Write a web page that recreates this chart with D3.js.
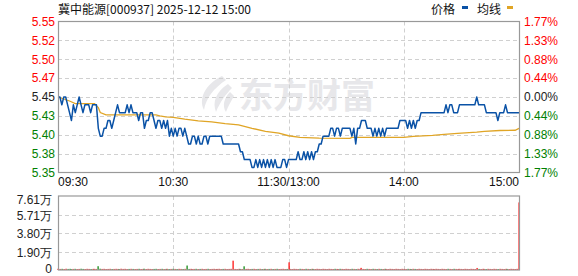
<!DOCTYPE html>
<html>
<head>
<meta charset="utf-8">
<script src="https://cdn.jsdelivr.net/npm/d3@7"></script>
<style>
  body { margin: 0; background: #fff; }
  text { font-family: "Liberation Sans", Arial, sans-serif; font-size: 12px; }
  .cjk { font-family: "Noto Sans CJK SC", sans-serif; }
</style>
</head>
<body>
<svg id="chart" width="578" height="276"></svg>
<script>
// ---- data ----
const title = "冀中能源[000937] 2025-12-12 15:00";
const preClose = 5.45;
const pctRange = 0.0177;

const priceLabels = ["5.35", "5.38", "5.40", "5.43", "5.45", "5.47", "5.50", "5.52", "5.55"];
const pctLabels = ["1.77%", "1.33%", "0.88%", "0.44%", "0.00%", "0.44%", "0.88%", "1.33%", "1.77%"];
const timeLabels = ["09:30", "10:30", "11:30/13:00", "14:00", "15:00"];
const timeMinutes = [0, 60, 120, 180, 240];
const volLabels = ["0", "1.90万", "3.80万", "5.71万", "7.61万"];
const volMax = 76100;

// price per minute, 09:30 .. 15:00 (241 points)
const prices = [
  5.45,5.45,5.44,5.45,5.45,5.44,5.43,5.42,5.44,5.43,
  5.44,5.45,5.44,5.43,5.44,5.44,5.44,5.43,5.44,5.44,
  5.44,5.41,5.40,5.40,5.41,5.41,5.42,5.42,5.41,5.42,
  5.43,5.44,5.43,5.43,5.43,5.43,5.44,5.43,5.44,5.43,
  5.43,5.43,5.42,5.43,5.43,5.41,5.42,5.42,5.43,5.43,
  5.42,5.41,5.42,5.42,5.41,5.42,5.41,5.42,5.40,5.41,
  5.40,5.41,5.40,5.41,5.41,5.40,5.41,5.40,5.39,5.39,
  5.40,5.40,5.39,5.40,5.39,5.39,5.40,5.40,5.39,5.40,
  5.40,5.40,5.40,5.40,5.40,5.40,5.39,5.39,5.39,5.39,
  5.39,5.39,5.39,5.39,5.39,5.38,5.38,5.37,5.37,5.37,
  5.37,5.36,5.36,5.37,5.36,5.37,5.36,5.37,5.36,5.37,
  5.36,5.37,5.36,5.37,5.36,5.36,5.36,5.37,5.37,5.36,
  5.37,5.37,5.37,5.37,5.37,5.38,5.37,5.37,5.38,5.37,
  5.38,5.37,5.38,5.37,5.38,5.38,5.39,5.39,5.40,5.40,
  5.40,5.40,5.41,5.41,5.40,5.41,5.41,5.40,5.41,5.41,
  5.41,5.41,5.41,5.40,5.41,5.39,5.41,5.41,5.42,5.42,
  5.42,5.41,5.41,5.41,5.40,5.41,5.40,5.41,5.40,5.41,
  5.40,5.41,5.41,5.41,5.41,5.41,5.41,5.41,5.42,5.42,
  5.42,5.42,5.41,5.42,5.41,5.42,5.41,5.42,5.42,5.43,
  5.43,5.43,5.43,5.43,5.43,5.43,5.43,5.43,5.43,5.43,
  5.43,5.43,5.44,5.43,5.44,5.44,5.43,5.43,5.43,5.44,
  5.44,5.44,5.44,5.44,5.44,5.44,5.44,5.44,5.45,5.44,
  5.44,5.44,5.44,5.43,5.43,5.43,5.43,5.43,5.43,5.42,
  5.43,5.43,5.43,5.44,5.43,5.43,5.43,5.43,5.43,5.43,
  5.43
];

// average line, sampled where it visibly changes
const avgMinutes = [0, 6, 9, 19, 21, 22, 25, 51, 53, 56, 60, 66, 73, 80, 87, 94, 101, 108, 115, 120,
  126, 136, 152, 153, 180, 185, 195, 201, 208, 218, 222, 230, 238, 240];
const avgValues = [5.45, 5.4449, 5.4415, 5.4415, 5.4364, 5.4301, 5.4271, 5.4271, 5.426, 5.4246, 5.424,
  5.4216, 5.4195, 5.4183, 5.4161, 5.4145, 5.410, 5.406, 5.4038, 5.4005,
  5.3984, 5.3975, 5.3971, 5.3984, 5.3984, 5.3996, 5.4009, 5.4022, 5.4034, 5.4051, 5.406, 5.4072, 5.4075, 5.410];

// volume per minute (shares)
const volumes = [
  1300,1100,1200,1000,1300,1100,1200,1000,1100,1200,
  1000,1100,1300,1100,1000,1200,1100,1000,1100,1200,
  1100,3900,1300,1100,1200,1000,1100,1200,1000,1100,
  1200,1100,1000,1300,1100,1200,1000,1100,1200,1100,
  1000,1100,1200,1000,1100,1300,1000,1200,1100,1000,
  1100,1200,1000,1100,1200,1000,1100,1200,1000,1100,
  1200,1100,1000,1200,1100,1000,1200,4600,1100,1200,
  1000,1100,1200,1000,1100,1200,1000,1100,1200,1000,
  1100,1200,1000,1100,1200,1000,1100,1200,1000,1100,
  1200,9600,1100,1000,1200,1100,1000,3800,1100,1200,
  1000,1100,1200,1000,1100,1200,1000,1100,1200,1000,
  1100,1200,1000,1100,1200,1000,1100,1200,1000,1100,
  7900,1100,1000,1200,1100,1000,1200,1100,1000,1200,
  1100,1000,1200,1100,1000,1200,1100,1000,1200,1100,
  1000,1200,1100,1000,1200,1100,1000,1200,1100,1000,
  1200,1100,1000,1200,1100,1000,1200,1100,2200,1100,
  1000,1200,1100,1000,1200,1100,1000,1200,1100,1000,
  1200,1100,1000,1200,1100,1000,1200,1100,1000,1200,
  1100,1000,1200,1100,1000,1200,1100,1000,1200,1100,
  1000,1200,1100,1000,1200,1100,1000,1200,1100,1000,
  1200,1100,1000,1200,1100,1000,1200,1100,1000,1200,
  1100,1000,1200,1100,1000,1200,1100,1000,2100,1100,
  1000,1200,1100,1000,1200,1100,1000,1200,1100,1000,
  1200,1100,1000,1200,1100,1000,1200,1100,1000,1200,
  69500
];

// ---- drawing ----
const svg = d3.select("#chart");
const left = 58, right = 519;
const pTop = 21.5, pBottom = 172.5;
const vTop = 196, vBottom = 270;

const x = d3.scaleLinear().domain([0, 240]).range([left, right]);
const yLo = preClose * (1 - pctRange), yHi = preClose * (1 + pctRange);
const y = d3.scaleLinear().domain([yLo, yHi]).range([pBottom, pTop]);
const yv = d3.scaleLinear().domain([0, volMax]).range([vBottom, vTop]);

const tickVals = d3.range(priceLabels.length).map(i => yLo + i * (yHi - yLo) / (priceLabels.length - 1));
const labelColor = i => i < 4 ? "#008000" : (i === 4 ? "#222" : "#ff0000");

// watermark
const wm = svg.append("g").attr("fill", "#e7e7ea");
wm.append("path")
  .attr("d", "M222,76 C206,84 198,98 204,110 C206,98 214,88 226,80 Z M228,84 C216,92 212,102 216,112 C220,102 226,94 232,88 Z M230,92 C224,98 222,106 226,112 C228,106 232,100 234,96 Z");
wm.append("text").attr("class", "cjk")
  .attr("x", 239).attr("y", 108)
  .style("font-size", "34px").style("font-weight", "bold")
  .text("东方财富");

// gridlines
const grid = svg.append("g").attr("stroke", "#d0d0d0").attr("stroke-dasharray", "4,3").attr("stroke-width", 1);
tickVals.slice(1, -1).forEach(v => {
  grid.append("line").attr("x1", left).attr("x2", right).attr("y1", Math.round(y(v)) + 0.5).attr("y2", Math.round(y(v)) + 0.5);
});
timeMinutes.slice(1, -1).forEach(m => {
  grid.append("line").attr("x1", Math.round(x(m)) + 0.5).attr("x2", Math.round(x(m)) + 0.5).attr("y1", pTop).attr("y2", pBottom);
  grid.append("line").attr("x1", Math.round(x(m)) + 0.5).attr("x2", Math.round(x(m)) + 0.5).attr("y1", vTop).attr("y2", vBottom);
});
[1, 2, 3].forEach(i => {
  const yy = Math.round(yv(i * volMax / 4)) + 0.5;
  grid.append("line").attr("x1", left).attr("x2", right).attr("y1", yy).attr("y2", yy);
});

// average line
svg.append("path")
  .datum(avgMinutes.map((m, i) => [m, avgValues[i]]))
  .attr("fill", "none").attr("stroke", "#e0a526").attr("stroke-width", 1.3)
  .attr("d", d3.line().x(d => x(d[0])).y(d => y(d[1])));

// price line
svg.append("path")
  .datum(prices)
  .attr("fill", "none").attr("stroke", "#0a52a6").attr("stroke-width", 1.5)
  .attr("stroke-linejoin", "round")
  .attr("d", d3.line().x((d, i) => x(i)).y(d => y(d)));

// volume bars
svg.append("g").selectAll("rect").data(volumes).join("rect")
  .attr("x", (d, i) => Math.round(x(i)) - 0.5)
  .attr("width", 1.2)
  .attr("y", d => yv(d))
  .attr("height", d => vBottom - yv(d))
  .attr("fill", (d, i) => (i > 0 && prices[i] < prices[i - 1]) ? "#008000" : "#ff0000");

// frames
svg.append("rect").attr("x", left + 0.5).attr("y", pTop).attr("width", right - left).attr("height", pBottom - pTop)
  .attr("fill", "none").attr("stroke", "#999").attr("stroke-width", 1.2);
svg.append("rect").attr("x", left + 0.5).attr("y", vTop).attr("width", right - left).attr("height", vBottom - vTop)
  .attr("fill", "none").attr("stroke", "#999").attr("stroke-width", 1.2);

// left price labels
svg.append("g").selectAll("text").data(tickVals).join("text")
  .attr("x", 55).attr("y", d => y(d)).attr("dy", "0.36em")
  .attr("text-anchor", "end")
  .attr("fill", (d, i) => labelColor(i))
  .text((d, i) => priceLabels[i]);

// right pct labels
svg.append("g").selectAll("text").data(tickVals).join("text")
  .attr("x", 524).attr("y", d => y(d)).attr("dy", "0.36em")
  .attr("fill", (d, i) => labelColor(i))
  .text((d, i) => pctLabels[i]);

// time labels
svg.append("g").selectAll("text").data(timeMinutes).join("text")
  .attr("x", d => x(d)).attr("y", 186)
  .attr("text-anchor", (d, i) => i === 0 ? "start" : (i === timeMinutes.length - 1 ? "end" : "middle"))
  .attr("fill", "#111")
  .text((d, i) => timeLabels[i]);

// volume labels
svg.append("g").selectAll("text").data(volLabels).join("text")
  .attr("x", 52)
  .attr("y", (d, i) => yv(i * volMax / 4) + (i === volLabels.length - 1 ? 4 : (i === 0 ? -1 : 1)))
  .attr("dy", "0.36em")
  .attr("text-anchor", "end")
  .attr("fill", "#222")
  .text(d => d);

// title
svg.append("text").attr("class", "cjk").attr("x", 58).attr("y", 14).attr("fill", "#111").text(title);

// legend
const leg = svg.append("g");
leg.append("text").attr("class", "cjk").attr("x", 431).attr("y", 14).attr("fill", "#111").text("价格");
leg.append("rect").attr("x", 462).attr("y", 6).attr("width", 6).attr("height", 3).attr("fill", "#0a52a6");
leg.append("text").attr("class", "cjk").attr("x", 477).attr("y", 14).attr("fill", "#111").text("均线");
leg.append("rect").attr("x", 507).attr("y", 6).attr("width", 6).attr("height", 3).attr("fill", "#e0a526");
</script>
</body>
</html>
